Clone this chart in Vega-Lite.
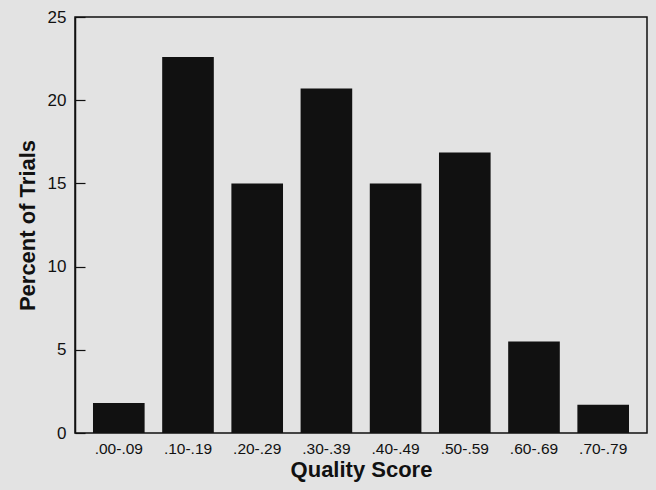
{
  "$schema": "https://vega.github.io/schema/vega-lite/v6.json",
  "autosize": "none",
  "width": 572,
  "height": 416,
  "padding": {"left": 75, "top": 17, "right": 9, "bottom": 57},
  "background": "#e3e3e3",
  "data": {
    "values": [
      {"score": ".00-.09", "percent": 1.8},
      {"score": ".10-.19", "percent": 22.6},
      {"score": ".20-.29", "percent": 15.0},
      {"score": ".30-.39", "percent": 20.7},
      {"score": ".40-.49", "percent": 15.0},
      {"score": ".50-.59", "percent": 16.85},
      {"score": ".60-.69", "percent": 5.5},
      {"score": ".70-.79", "percent": 1.7}
    ]
  },
  "mark": {"type": "bar", "color": "#111111"},
  "encoding": {
    "x": {
      "field": "score",
      "type": "ordinal",
      "sort": null,
      "title": "Quality Score",
      "scale": {"paddingInner": 0.254, "paddingOuter": 0.26},
      "axis": {
        "labelAngle": 0,
        "ticks": false,
        "domain": false,
        "labelPadding": 8,
        "labelFontSize": 15.5,
        "labelFont": "Liberation Sans",
        "labelColor": "#111111",
        "titleFont": "Liberation Sans",
        "titleFontSize": 22,
        "titleFontWeight": "bold",
        "titleColor": "#111111",
        "titlePadding": 3
      }
    },
    "y": {
      "field": "percent",
      "type": "quantitative",
      "title": "Percent of Trials",
      "scale": {"domain": [0, 25], "nice": false},
      "axis": {
        "values": [0, 5, 10, 15, 20, 25],
        "grid": false,
        "tickSize": -10,
        "tickColor": "#111111",
        "tickWidth": 1.2,
        "domainColor": "#111111",
        "domainWidth": 1.5,
        "labelPadding": 19,
        "labelFontSize": 17,
        "labelFont": "Liberation Sans",
        "labelColor": "#111111",
        "titleFont": "Liberation Sans",
        "titleFontSize": 22,
        "titleFontWeight": "bold",
        "titleColor": "#111111",
        "titlePadding": 8
      }
    }
  },
  "config": {
    "view": {"stroke": "#111111", "strokeWidth": 1.5}
  }
}
